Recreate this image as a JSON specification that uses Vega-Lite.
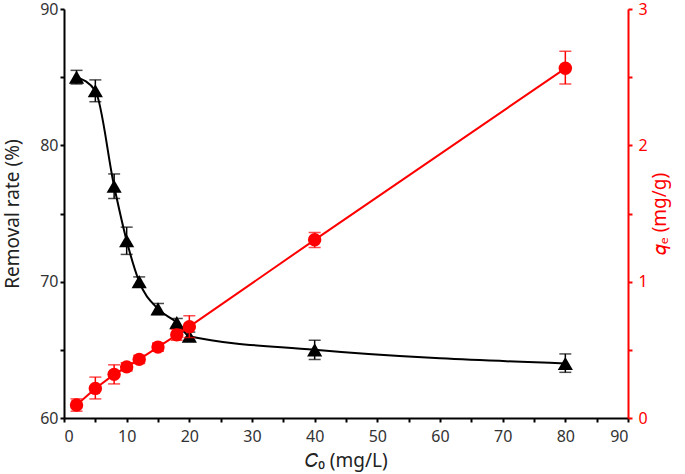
{
  "$schema": "https://vega.github.io/schema/vega-lite/v6.json",
  "width": 564,
  "height": 409,
  "autosize": {"type": "none"},
  "padding": {"left": 64, "top": 9, "right": 57, "bottom": 56},
  "background": "white",
  "config": {
    "view": {"stroke": null},
    "font": "Noto Sans",
    "axis": {"grid": false, "labelFont": "Noto Sans", "titleFont": "Noto Sans", "labelFontSize": 16, "titleFontSize": 19, "titleFontWeight": "normal", "tickSize": 4, "tickWidth": 2, "domainWidth": 2}
  },
  "data": {"values": [
    {"x": 2, "rr": 85, "rr_lo": 84.5, "rr_hi": 85.5, "qe": 0.095, "qe_lo": 0.05, "qe_hi": 0.14},
    {"x": 5, "rr": 84, "rr_lo": 83.2, "rr_hi": 84.8, "qe": 0.217, "qe_lo": 0.14, "qe_hi": 0.30},
    {"x": 8, "rr": 77, "rr_lo": 76.1, "rr_hi": 77.9, "qe": 0.32, "qe_lo": 0.25, "qe_hi": 0.39},
    {"x": 10, "rr": 73, "rr_lo": 72, "rr_hi": 74, "qe": 0.375, "qe_lo": 0.345, "qe_hi": 0.405},
    {"x": 12, "rr": 70, "rr_lo": 69.65, "rr_hi": 70.35, "qe": 0.43, "qe_lo": 0.40, "qe_hi": 0.46},
    {"x": 15, "rr": 68, "rr_lo": 67.6, "rr_hi": 68.4, "qe": 0.52, "qe_lo": 0.49, "qe_hi": 0.55},
    {"x": 18, "rr": 67, "rr_lo": 66.7, "rr_hi": 67.3, "qe": 0.61, "qe_lo": 0.57, "qe_hi": 0.65},
    {"x": 20, "rr": 66, "rr_lo": 65.7, "rr_hi": 66.3, "qe": 0.67, "qe_lo": 0.59, "qe_hi": 0.75},
    {"x": 40, "rr": 65, "rr_lo": 64.3, "rr_hi": 65.7, "qe": 1.307, "qe_lo": 1.25, "qe_hi": 1.36},
    {"x": 80, "rr": 64, "rr_lo": 63.35, "rr_hi": 64.7, "qe": 2.565, "qe_lo": 2.45, "qe_hi": 2.69}
  ]},
  "encoding": {
    "x": {"field": "x", "type": "quantitative", "scale": {"domain": [0, 90], "nice": false},
      "axis": {"values": [0,5,10,15,20,25,30,35,40,45,50,55,60,65,70,75,80,85,90], "labelExpr": "datum.value % 10 === 0 ? datum.label : ''", "title": "𝐶₀ (mg/L)", "labelColor": "#333", "titleColor": "#222", "domainColor": "black", "tickColor": "black", "titlePadding": 7, "labelPadding": 6}}
  },
  "layer": [
    {
      "encoding": {"y": {"type": "quantitative", "scale": {"domain": [60, 90], "nice": false}}},
      "layer": [
        {"mark": {"type": "errorbar", "ticks": {"size": 12, "thickness": 1.5, "color": "black"}, "rule": {"strokeWidth": 1.5}, "color": "black"},
         "encoding": {"y": {"field": "rr_lo", "type": "quantitative", "scale": {"domain": [60, 90], "nice": false}, "axis": {"title": "Removal rate (%)", "values": [60,65,70,75,80,85,90], "labelExpr": "datum.value % 10 === 0 ? datum.label : ''", "labelColor": "#333", "titleColor": "#222", "domainColor": "black", "tickColor": "black", "titlePadding": 17}}, "y2": {"field": "rr_hi"}}},
        {"mark": {"type": "line", "color": "black", "strokeWidth": 2, "interpolate": "monotone"},
         "encoding": {"y": {"field": "rr", "type": "quantitative"}}},
        {"mark": {"type": "point", "shape": "triangle-up", "filled": true, "color": "black", "size": 230, "opacity": 1},
         "encoding": {"y": {"field": "rr", "type": "quantitative"}}}
      ]
    },
    {
      "encoding": {"y": {"type": "quantitative", "scale": {"domain": [0, 3], "nice": false}}},
      "layer": [
        {"mark": {"type": "errorbar", "ticks": {"size": 12, "thickness": 1.5, "color": "red"}, "rule": {"strokeWidth": 1.5}, "color": "red"},
         "encoding": {"y": {"field": "qe_lo", "type": "quantitative", "scale": {"domain": [0, 3], "nice": false}, "axis": {"orient": "right", "title": "𝑞ₑ (mg/g)", "titleAngle": 270, "values": [0,0.5,1,1.5,2,2.5,3], "labelExpr": "datum.value % 1 === 0 ? format(datum.value, 'd') : ''", "labelColor": "red", "titleColor": "red", "domainColor": "red", "tickColor": "red", "labelPadding": 6, "titlePadding": 22}}, "y2": {"field": "qe_hi"}}},
        {"mark": {"type": "line", "color": "red", "strokeWidth": 2},
         "encoding": {"y": {"field": "qe", "type": "quantitative"}}},
        {"mark": {"type": "point", "shape": "circle", "filled": true, "color": "red", "size": 180, "opacity": 1},
         "encoding": {"y": {"field": "qe", "type": "quantitative"}}}
      ]
    }
  ],
  "resolve": {"scale": {"y": "independent"}, "axis": {"y": "independent"}}
}
